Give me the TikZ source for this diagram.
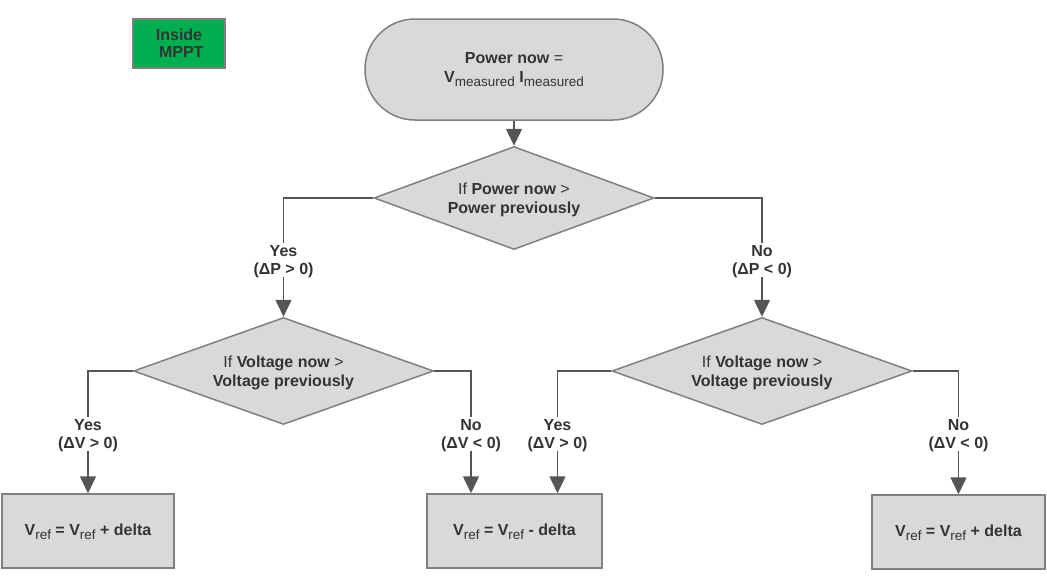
\documentclass[tikz,border=0pt]{standalone}
\usepackage{fontspec}
\setmainfont{Liberation Sans}
\usetikzlibrary{shapes.geometric,arrows.meta}
\definecolor{fillg}{HTML}{D9D9D9}
\definecolor{bord}{HTML}{808080}
\definecolor{linec}{HTML}{555555}
\definecolor{txt}{HTML}{333333}
\definecolor{mgreen}{HTML}{00B050}
\newcommand{\sbs}[1]{\raisebox{-4pt}{\fontsize{13.5}{14}\selectfont\mdseries #1}}
\begin{document}
\begin{tikzpicture}[x=1pt,y=-1pt,
  every node/.style={font=\fontsize{16}{18.5}\selectfont, text=txt},
  shapebox/.style={draw=bord, fill=fillg, line width=1.5pt, inner sep=0pt},
  dec/.style={shapebox, shape=diamond, aspect=2.8, align=center, text depth=0pt},
  act/.style={shapebox, rectangle, minimum height=74pt, text depth=2pt},
  lab/.style={fill=white, align=center, font=\bfseries\fontsize{16}{18.5}\selectfont, inner sep=2pt, text depth=0pt},
  arr/.style={draw=linec, line width=1.5pt, -{Triangle[width=16pt,length=17pt]}}
]
\useasboundingbox (0,0) rectangle (1047,584);

\node[draw=bord, fill=mgreen, line width=1.5pt, minimum width=92pt, minimum height=49pt, inner sep=0pt, align=center, text depth=0pt, font=\bfseries\fontsize{16}{17}\selectfont] (mppt) at (179,43.5) {Inside\\\ MPPT};

\node[shapebox, rectangle, rounded corners=50pt, minimum width=298pt, minimum height=101pt, align=center] (start) at (514,69.5)
  {\textbf{Power now} =\\\textbf{V}\sbs{measured} \textbf{I}\sbs{measured}};

\node[dec, minimum width=280pt, minimum height=103pt] (d1) at (514,198)
  {If \textbf{Power now} >\\\textbf{Power previously}};
\node[dec, minimum width=300pt, minimum height=107pt] (d2) at (283.5,371)
  {If \textbf{Voltage now} >\\\textbf{Voltage previously}};
\node[dec, minimum width=300pt, minimum height=107pt] (d3) at (762,371)
  {If \textbf{Voltage now} >\\\textbf{Voltage previously}};

\node[act, minimum width=172pt] (b1) at (88,531) {\textbf{V\sbs{ref} = V\sbs{ref} + delta}};
\node[act, minimum width=175pt] (b2) at (514.5,531) {\textbf{V\sbs{ref} = V\sbs{ref} - delta}};
\node[act, minimum width=173pt] (b3) at (958.5,532) {\textbf{V\sbs{ref} = V\sbs{ref} + delta}};

\draw[arr] (start.south) -- (d1.north);
\draw[arr] (d1.west) -| (d2.north);
\draw[arr] (d1.east) -| (d3.north);
\draw[arr] (d2.west) -| (b1.north);
\draw[arr] (d2.east) -| ([xshift=-43.5pt]b2.north);
\draw[arr] (d3.west) -| ([xshift=43pt]b2.north);
\draw[arr] (d3.east) -| (b3.north);

\node[lab] (l1) at (283.5,260) {Yes\\(ΔP > 0)};
\node[lab] (l2) at (762,260) {No\\(ΔP < 0)};
\node[lab] (l3) at (88,434) {Yes\\(ΔV > 0)};
\node[lab] (l4) at (471,434) {No\\(ΔV < 0)};
\node[lab] (l5) at (557.5,434) {Yes\\(ΔV > 0)};
\node[lab] (l6) at (958.5,434) {No\\(ΔV < 0)};
\end{tikzpicture}
\end{document}
